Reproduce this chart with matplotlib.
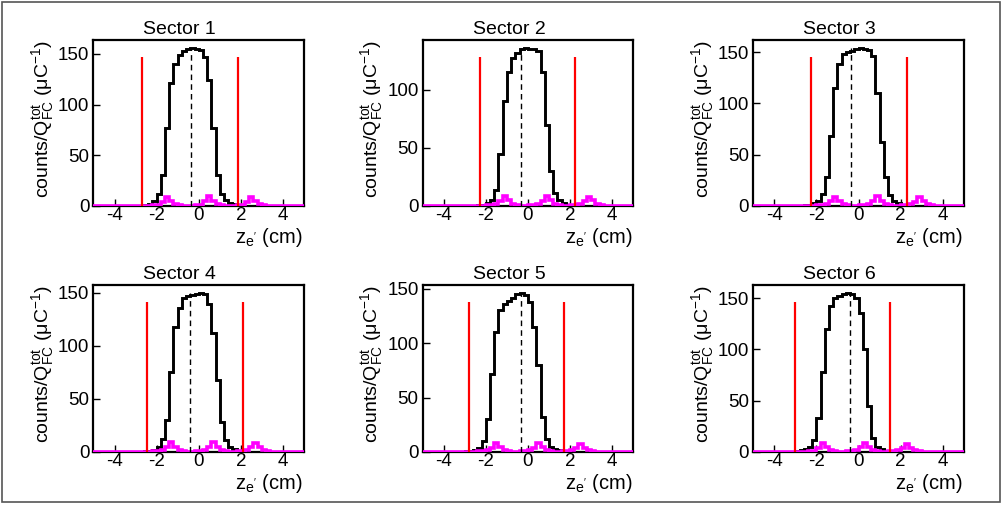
import numpy as np
import matplotlib
matplotlib.use("Agg")
import matplotlib.pyplot as plt
from matplotlib.patches import Rectangle

plt.rcParams['font.family'] = ['Liberation Sans', 'DejaVu Sans']
plt.rcParams['mathtext.fontset'] = 'custom'
plt.rcParams['mathtext.rm'] = 'Liberation Sans'
plt.rcParams['mathtext.it'] = 'Liberation Sans'
plt.rcParams['mathtext.sf'] = 'Liberation Sans'

# ---------------- data ----------------
bin_edges = np.linspace(-5, 5, 51)
sectors = ["Sector 1", "Sector 2", "Sector 3", "Sector 4", "Sector 5", "Sector 6"]

black_s1 = [0, 0, 0, 0, 0, 0.05, 0.1, 0.1, 0.15, 0.2,
            0.3, 0.4, 0.8, 1.9, 4.6, 12, 31, 77, 121, 140,
            149, 153, 155, 156, 155, 154, 147, 124, 77, 31,
            12, 6, 3, 1.6, 0.8, 0.4, 0.3, 0.2, 0.15, 0.1,
            0.1, 0.05, 0.05, 0, 0, 0, 0, 0, 0, 0]
black_s2 = [0, 0, 0, 0, 0, 0, 0.05, 0.05, 0.1, 0.1,
            0.2, 0.3, 0.4, 0.5, 1.2, 2.5, 5, 14, 45, 90,
            115, 127, 132, 135, 136, 135, 135, 133, 115, 70,
            30, 11, 5, 2.5, 1.2, 0.6, 0.3, 0.2, 0.1, 0.05,
            0.05, 0, 0, 0, 0, 0, 0, 0, 0, 0]
black_s3 = [0, 0, 0, 0, 0, 0, 0.05, 0.05, 0.1, 0.1,
            0.2, 0.3, 0.5, 1, 2.5, 5, 12, 28, 68, 115,
            138, 148, 150, 151, 153, 154, 153, 152, 146, 110,
            62, 28, 11, 5, 2.5, 1.2, 0.6, 0.3, 0.2, 0.1,
            0.05, 0, 0, 0, 0, 0, 0, 0, 0, 0]
black_s4 = [0, 0, 0, 0, 0, 0, 0.05, 0.05, 0.1, 0.1,
            0.2, 0.3, 0.5, 1, 2, 5, 12, 30, 75, 118,
            136, 145, 147, 148, 149, 150, 149, 140, 112, 68,
            28, 11, 5, 2.5, 1.2, 0.6, 0.3, 0.2, 0.1, 0.05,
            0.05, 0, 0, 0, 0, 0, 0, 0, 0, 0]
black_s5 = [0, 0, 0, 0, 0.05, 0.05, 0.1, 0.1, 0.2, 0.3,
            0.5, 1, 2, 4, 10, 30, 72, 110, 130, 136,
            139, 141, 145, 146, 144, 138, 115, 80, 32, 12,
            5, 3, 1.5, 0.8, 0.4, 0.2, 0.1, 0.05, 0, 0,
            0, 0, 0, 0, 0, 0, 0, 0, 0, 0]
black_s6 = [0, 0, 0, 0, 0.05, 0.05, 0.1, 0.15, 0.2, 0.4,
            0.8, 1.5, 3, 5, 12, 33, 78, 120, 142, 150,
            152, 154, 155, 154, 150, 135, 100, 45, 14, 5,
            2.5, 1.2, 0.6, 0.3, 0.2, 0.1, 0.05, 0, 0, 0,
            0, 0, 0, 0, 0, 0, 0, 0, 0, 0]

mag_s1 = [0.3, 0.3, 0.3, 0.3, 0.3, 0.3, 0.3, 0.3, 0.3, 0.3,
          0.3, 0.3, 0.3, 0.4, 0.5, 1.2, 4, 9, 5, 1.5,
          0.6, 0.4, 0.4, 0.4, 0.5, 1, 4.5, 10, 5, 1.5,
          0.6, 0.4, 0.4, 0.4, 0.5, 1, 4, 9, 5, 1.5,
          0.5, 0.3, 0.3, 0.3, 0.3, 0.3, 0.3, 0.3, 0.3, 0.3]
mag_s2 = [0.3, 0.3, 0.3, 0.3, 0.3, 0.3, 0.3, 0.3, 0.3, 0.3,
          0.3, 0.3, 0.3, 0.3, 0.4, 0.5, 1, 1.5, 4, 8.5,
          5, 1.5, 0.6, 0.4, 0.4, 0.5, 1, 1.5, 4.5, 8.5,
          5, 1.5, 0.6, 0.4, 0.4, 0.5, 1, 1.5, 4, 8,
          5, 1.5, 0.5, 0.3, 0.3, 0.3, 0.3, 0.3, 0.3, 0.3]
mag_s3 = [0.3, 0.3, 0.3, 0.3, 0.3, 0.3, 0.3, 0.3, 0.3, 0.3,
          0.3, 0.3, 0.3, 0.3, 0.4, 0.5, 1, 1.5, 4.5, 9,
          5, 1.5, 0.6, 0.4, 0.4, 0.5, 1, 1.5, 5, 9.5,
          5, 1.5, 0.6, 0.4, 0.4, 0.5, 1, 1.5, 4, 8.5,
          5, 1.5, 0.5, 0.3, 0.3, 0.3, 0.3, 0.3, 0.3, 0.3]
mag_s4 = [0.3, 0.3, 0.3, 0.3, 0.3, 0.3, 0.3, 0.3, 0.3, 0.3,
          0.3, 0.3, 0.3, 0.4, 0.5, 1, 1.5, 4.5, 9, 5,
          1.5, 0.6, 0.4, 0.4, 0.5, 1, 1.5, 4.5, 9, 5,
          1.5, 0.6, 0.4, 0.4, 0.5, 1, 1.5, 4.5, 8.5, 5,
          1.5, 0.5, 0.3, 0.3, 0.3, 0.3, 0.3, 0.3, 0.3, 0.3]
mag_s5 = [0.3, 0.3, 0.3, 0.3, 0.3, 0.3, 0.3, 0.3, 0.3, 0.3,
          0.3, 0.3, 0.4, 0.5, 1, 1.5, 4, 8, 4.5, 1.5,
          0.6, 0.4, 0.4, 0.5, 1, 1.5, 4, 8, 4.5, 1.5,
          0.6, 0.4, 0.4, 0.5, 1, 1.5, 4, 7.5, 4, 1.5,
          0.5, 0.3, 0.3, 0.3, 0.3, 0.3, 0.3, 0.3, 0.3, 0.3]
mag_s6 = [0.3, 0.3, 0.3, 0.3, 0.3, 0.3, 0.3, 0.3, 0.3, 0.3,
          0.3, 0.3, 0.4, 0.5, 1, 4, 8.5, 4.5, 1.5, 0.6,
          0.4, 0.4, 0.5, 1, 1.5, 4.5, 8.5, 4.5, 1.5, 0.6,
          0.4, 0.4, 0.5, 1, 1.5, 4, 7.5, 4, 1.5, 0.5,
          0.3, 0.3, 0.3, 0.3, 0.3, 0.3, 0.3, 0.3, 0.3, 0.3]

cut_low = [-2.68, -2.26, -2.25, -2.46, -2.82, -3.01]
cut_high = [1.87, 2.25, 2.30, 2.09, 1.69, 1.50]
mean_z = [-0.38, -0.33, -0.38, -0.42, -0.35, -0.42]

blacks = [black_s1, black_s2, black_s3, black_s4, black_s5, black_s6]
mags = [mag_s1, mag_s2, mag_s3, mag_s4, mag_s5, mag_s6]

xticks = [-4, -2, 0, 2, 4]
yticks_main = [0, 50, 100, 150]
yticks_s2 = [0, 50, 100]

# ---------------- layout ----------------
W, H = 1003, 513
fig = plt.figure(figsize=(W / 100, H / 100), dpi=100)
fig.patch.set_facecolor('white')

# canvas border
fig.add_artist(Rectangle((1.5 / W, 1 - 502 / H), 999 / W, 500 / H,
                         transform=fig.transFigure, fill=False,
                         edgecolor='#555555', linewidth=1.2))

col_left = [93.5, 422.7, 753.3]
row_top = [40, 285]
row_bot = [206, 452]
ax_w = 210.5

FS = 13.5
for k in range(6):
    r, c = divmod(k, 3)
    left = col_left[c] / W
    bottom = 1 - row_bot[r] / H
    h_px = row_bot[r] - row_top[r]
    height = h_px / H
    ax = fig.add_axes([left, bottom, ax_w / W, height])
    vals = np.array(blacks[k], dtype=float)
    mvals = np.array(mags[k], dtype=float)
    peak = vals.max()
    ymax = 1.05 * peak
    ax.stairs(vals, bin_edges, color='black', linewidth=2.1, zorder=3)
    ax.stairs(mvals, bin_edges, color='#ff00ff', linewidth=2.6, zorder=4)
    ax.vlines([cut_low[k], cut_high[k]], 0, 0.9 * ymax, color='#ff0000',
              linewidth=1.6, zorder=5)
    ax.vlines([mean_z[k]], 0, peak, color='black', linewidth=1.0,
              linestyles=(0, (4, 3)), zorder=5)
    ax.set_xlim(-5, 5)
    ax.set_ylim(0, ymax)
    ax.set_xticks(xticks)
    ax.set_xticklabels([str(t) for t in xticks])
    yt = yticks_s2 if k == 1 else yticks_main
    ax.set_yticks(yt)
    ax.set_yticklabels([str(t) for t in yt])
    ax.tick_params(direction='in', length=5, width=1, labelsize=FS,
                   top=False, right=False)
    ax.tick_params(axis='x', pad=1)
    ax.tick_params(axis='y', pad=3)
    for sp in ax.spines.values():
        sp.set_linewidth(1.6)
    ax.set_title(sectors[k], fontsize=FS + 0.5, x=0.41, pad=4)
    ax.set_xlabel(r"z$_{\rm e'}$ (cm)", fontsize=FS + 1.0, loc='right')
    ax.xaxis.set_label_coords(0.995, -20 / h_px, transform=ax.transAxes)
    ax.xaxis.label.set_va('top')
    ax.set_ylabel(r"counts/Q$_{\rm FC}^{\rm tot}$ ($\mu$C$^{-1}$)",
                  fontsize=FS + 0.5, loc='top')
    ax.yaxis.set_label_coords(-37.5 / ax_w, 1.0, transform=ax.transAxes)

fig.savefig("out.png", dpi=100)
